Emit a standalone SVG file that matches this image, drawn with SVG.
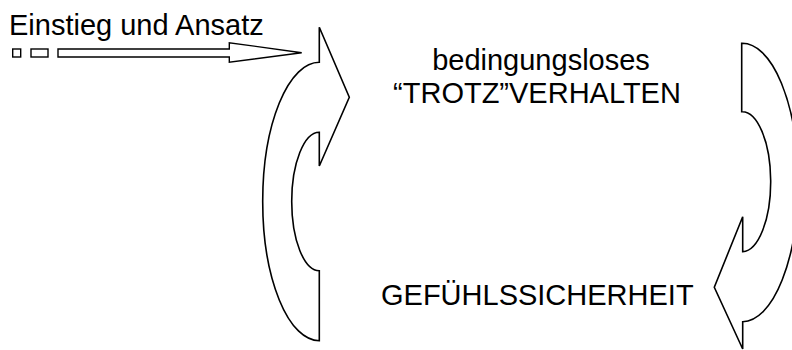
<svg xmlns="http://www.w3.org/2000/svg" width="792" height="350" viewBox="0 0 792 350">
  <style>
    .lbl { font-family: "Liberation Sans", Arial, sans-serif; font-size: 29px; fill: #000; }
    .shape { fill: #fff; stroke: #000; stroke-width: 1.6; stroke-linejoin: miter; }
    .thin { fill: #fff; stroke: #000; stroke-width: 1.4; }
  </style>
  <rect width="792" height="350" fill="#fff"/>

  <!-- entry label with dashed-start block arrow -->
  <g id="entry">
    <text class="lbl" x="9" y="35">Einstieg und Ansatz</text>
    <rect class="thin" x="12.7" y="49" width="8" height="8"/>
    <rect class="thin" x="31" y="49" width="17" height="8"/>
    <polygon class="thin" points="58,49 229.3,49 229.3,42.7 301.7,52.7 229.3,62.3 229.3,57 58,57"/>
  </g>

  <!-- curved block arrows forming the cycle -->
  <g id="connectors">
    <path id="arrow-up" class="shape" d="M319.3,27.3 L349.3,97.3 L319.3,166 L319.3,132.3 A27.6,69.2 0 0 0 319.3,270.7 L319.3,340.7 A56.6,139.2 0 0 1 319.3,62.3 Z"/>
    <path id="arrow-down" class="shape" d="M741.7,43.3 A56,139.2 0 0 1 742.7,321.7 L742.7,349 L714.3,287.3 L742.7,216.7 L742.7,251.7 A28.5,70 0 0 0 741.7,111.7 Z"/>
  </g>

  <g id="node-trotz">
    <text class="lbl" x="541" y="70" text-anchor="middle">bedingungsloses</text>
    <text class="lbl" x="537" y="103" text-anchor="middle">“TROTZ”VERHALTEN</text>
  </g>

  <g id="node-gefuehl">
    <text class="lbl" x="381" y="305">GEFÜHLSSICHERHEIT</text>
  </g>
</svg>
